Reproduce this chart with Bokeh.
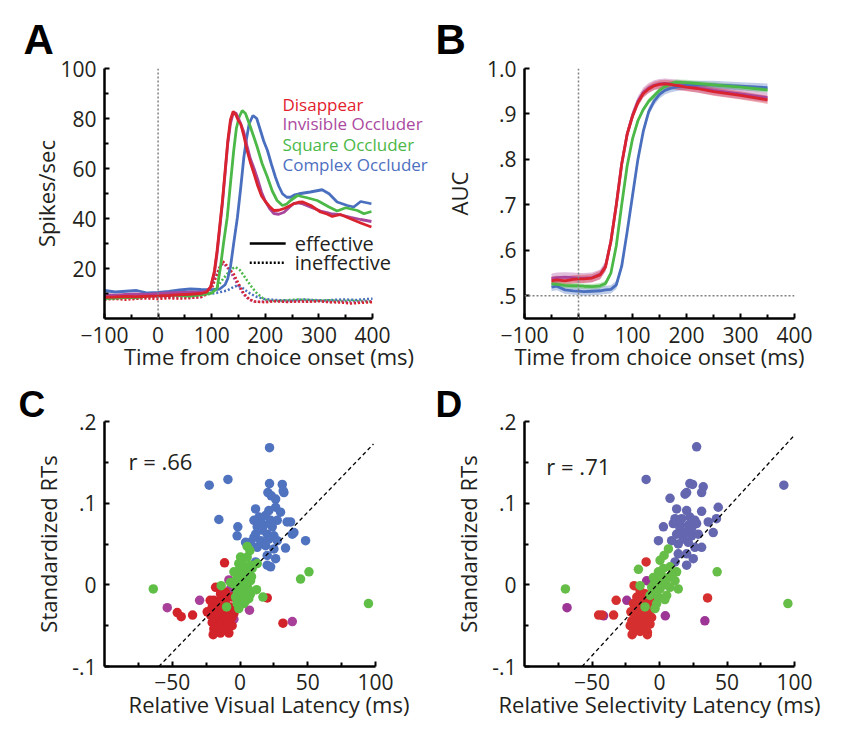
import numpy as np
from bokeh.plotting import figure
from bokeh.models import FixedTicker, Span, Label, CustomJSTickFormatter, Range1d
from bokeh.layouts import gridplot
from bokeh.embed import file_html
from bokeh.resources import INLINE

FONT = "Open Sans"
TXT = "#231f20"

# ---------------- Panel A data (firing rate, spikes/sec) ----------------
series_names = ["Disappear", "Invisible Occluder", "Square Occluder", "Complex Occluder"]
col_line = {"Disappear": "#d9232e", "Invisible Occluder": "#a9459b",
            "Square Occluder": "#4cb848", "Complex Occluder": "#4a6fbf"}
col_text = {"Disappear": "#e2212d", "Invisible Occluder": "#ab4aa0",
            "Square Occluder": "#4cb848", "Complex Occluder": "#4e6fbf"}

a_red_t = [-100,-80,-60,-40,-20,0,20,40,60,80,90,98,105,110,115,120,125,130,135,140,145,150,154,160,166,172,179,186,193,200,208,216,225,235,245,253,262,270,285,303,315,325,340,359,378,398]
a_red_y = [8.5,8.6,8.8,8.7,8.9,9.0,9.2,9.5,9.7,10.0,10.5,12.6,19,27,37,47,59,71,79.5,82.8,81.5,79,77.9,73,67.2,62.5,57.9,53,49,46.8,44.8,43.2,43.3,44,45,45.9,46.5,46.6,45.2,42.6,41.8,40.8,41.6,39.9,38.2,36.6]
a_mag_t = a_red_t
a_mag_y = [9.5,9.3,9.6,9.8,9.6,10,10.2,10.4,10.5,10.5,10.8,12.5,18,26,36,46,58,70,78,82,82.3,80,78,74.5,69,64,60,55.5,50.5,47,44,42,41.7,42.5,44.5,46,46.2,45.8,44.5,43,42.4,41.8,41.5,40.5,39.6,38.8]
a_grn_t = [-100,-80,-60,-40,-20,0,20,40,60,80,100,110,116,122,129,135,141,146,151,157,163,170,178,185,194,204,213,222,232,240,247,260,278,297,319,334,350,372,384,398]
a_grn_y = [8.0,8.2,8.5,8.4,9.0,9.5,9.6,9.2,9.0,9.5,10.2,12.0,20,30,40.5,54,67,76,80.5,83.2,82,78,73,68.5,62,56.5,51,47.2,45.2,45.8,47.2,49.2,48.3,47.2,44.6,43,44.3,43.2,41.9,42.8]
a_blu_t = [-100,-80,-60,-40,-20,0,20,40,60,80,100,115,125,130,135,141,148,154,160,165,170,177,184,191,197,204,211,219,225,232,240,247,255,263,284,306,319,334,353,365,378,398]
a_blu_y = [11.2,10.6,10.9,11.2,10.2,10.4,10.8,11.4,11.8,11.6,11.5,11.8,13.5,16,20.6,30,40.5,52,64.5,72,78,81.2,80,75.2,71,67.2,62,56.5,53,49.9,48.5,48.5,49.5,49.9,50.6,51.5,49.9,46.6,45.2,44.6,46.8,45.9]

a_ineff_t_rm = [-100,-80,-60,-40,-20,0,20,40,60,80,90,100,108,115,121,127,134,141,150,160,170,179,190,200,220,240,260,280,300,320,340,360,380,400]
a_red_ineff = [7.6,7.8,7.5,7.9,8.0,7.8,8.1,7.9,8.2,8.6,9.5,12,16.5,20.5,22.8,21.5,19.5,17.9,14,9.9,7.8,6.8,6.6,6.5,6.9,6.6,6.8,6.7,6.9,6.5,6.4,6.0,6.3,6.5]
a_mag_ineff = [8.2,8.0,8.3,8.1,8.4,8.6,8.3,8.5,8.2,8.5,9.8,12.5,17,20.5,22,21,19,16.5,13,9.5,7.5,6.8,6.7,6.8,7.0,6.7,6.9,6.8,7.0,6.6,6.8,6.4,6.7,6.9]
a_grn_ineff_t = [-100,-80,-60,-40,-20,0,20,40,60,80,100,110,120,129,137,144,152,159,166,175,185,195,204,220,240,260,280,300,320,340,360,380,400]
a_grn_ineff = [7.8,8.0,8.2,8.0,8.5,8.8,8.6,8.9,9.0,9.2,10,12.6,15.5,17.9,19.8,20.6,19.5,17.5,15.2,12.5,9.9,8.2,7.2,7.0,7.3,7.6,7.4,7.2,7.3,7.0,7.1,7.0,6.9]
a_blu_ineff_t = [-100,-80,-60,-40,-20,0,20,40,60,80,100,115,129,140,148,156,165,172,185,197,210,230,250,270,290,310,330,350,370,390,400]
a_blu_ineff = [8.5,8.8,8.6,9.0,8.9,9.2,9.0,9.3,9.5,9.6,9.9,10.5,11.2,12.5,13.2,12.5,11.0,9.9,8.6,7.9,7.5,7.3,7.2,7.6,7.4,7.2,7.5,7.6,7.4,7.8,7.9]

# ---------------- Panel B data (AUC) ----------------
b_t = [-50,-40,-25,-10,0,10,25,40,50,60,70,80,90,100,110,120,130,140,150,160,170,180,200,220,250,300,350]
b_red = [0.533,0.535,0.533,0.536,0.537,0.537,0.539,0.546,0.563,0.62,0.70,0.79,0.855,0.895,0.925,0.945,0.955,0.962,0.965,0.966,0.965,0.963,0.959,0.956,0.949,0.941,0.931]
b_mag = [0.538,0.540,0.541,0.540,0.539,0.539,0.540,0.547,0.565,0.62,0.70,0.79,0.855,0.897,0.928,0.947,0.957,0.963,0.966,0.967,0.966,0.965,0.962,0.958,0.952,0.944,0.936]
b_grn = [0.526,0.525,0.523,0.522,0.522,0.521,0.520,0.522,0.527,0.55,0.61,0.70,0.785,0.845,0.885,0.91,0.928,0.94,0.952,0.96,0.966,0.970,0.969,0.967,0.964,0.959,0.953]
b_blu = [0.519,0.521,0.513,0.511,0.510,0.509,0.510,0.511,0.513,0.514,0.524,0.565,0.64,0.72,0.80,0.862,0.905,0.928,0.943,0.952,0.956,0.959,0.963,0.964,0.964,0.961,0.958]
b_sem = {"Disappear": 0.009, "Invisible Occluder": 0.011, "Square Occluder": 0.006, "Complex Occluder": 0.009}

# ---------------- Panel C data (visual latency vs RT) ----------------
c_blue_x = [21.8,-22.7,-8.9,21.8,31.2,31.9,20.6,23.1,26.3,32.4,-15.6,11.5,21.3,26.3,29.9,18.9,15.2,22.6,27.5,37.3,10.3,12.7,17.6,23.8,-1.6,-2.1,11.5,20.1,25.0,38.6,39.8,48.4,33.6,4.1,15.2,18.9,12.7,25.0,20.1,26.3,20.1,22.6,11.5,7.8,16.4,21.3,27.5,10.3,14.0,34.8]
c_blue_y = [0.168,0.122,0.129,0.124,0.123,0.115,0.113,0.109,0.105,0.113,0.080,0.093,0.091,0.095,0.089,0.085,0.079,0.079,0.079,0.077,0.079,0.071,0.073,0.071,0.071,0.060,0.062,0.062,0.060,0.062,0.064,0.054,0.045,0.052,0.054,0.048,0.046,0.044,0.036,0.032,0.024,0.022,0.028,0.052,0.067,0.056,0.054,0.058,0.083,0.077]
c_green_x = [-64.0,5.3,7.3,0.4,5.3,-0.9,2.8,7.8,12.7,1.6,6.5,-2.1,4.1,7.8,-4.5,0.4,5.3,-2.1,2.8,7.8,-3.3,1.6,6.5,-2.1,2.8,-0.9,-9.9,-13.9,12.2,16.9,44.7,50.9,-7.0,-4.5,94.8,3.0,0.0,5.0,-1.0,4.0,8.5,2.0,9.0,-3.0,6.0]
c_green_y = [-0.005,0.047,0.042,0.034,0.034,0.026,0.022,0.024,0.026,0.016,0.016,0.009,0.009,0.005,0.001,0.001,-0.003,-0.007,-0.009,-0.011,-0.015,-0.017,-0.017,-0.023,-0.023,-0.029,-0.027,-0.001,-0.006,-0.015,0.007,0.016,0.003,0.016,-0.023,0.012,0.020,0.000,-0.010,-0.020,0.010,0.030,0.020,0.005,-0.005]
c_red_x = [-11.4,20.1,31.7,-46.3,-43.4,-35.0,-24.2,-18.0,-14.4,-10.7,-19.3,-15.6,-10.7,-5.8,-20.5,-16.8,-11.9,-7.0,-21.7,-18.0,-13.1,-8.2,-4.5,-20.5,-16.8,-11.9,-7.0,-19.3,-14.4,-9.4,-5.8,-19.8,-14.4,-8.2,-22.0,-17.0,-13.0,-10.0,-15.0,-9.0,-12.0,-18.0,-6.0,-14.0,-11.0]
c_red_y = [0.027,-0.016,-0.047,-0.034,-0.039,-0.037,-0.033,-0.003,-0.011,-0.009,-0.019,-0.023,-0.019,-0.015,-0.027,-0.031,-0.029,-0.027,-0.037,-0.040,-0.037,-0.037,-0.035,-0.046,-0.048,-0.046,-0.048,-0.054,-0.056,-0.054,-0.050,-0.061,-0.059,-0.059,-0.019,-0.035,-0.045,-0.030,-0.020,-0.050,-0.055,-0.052,-0.040,-0.028,-0.040]
c_mag_x = [-53.7,-29.8,-8.2,7.0,38.6,-7.0,-18.0,-4.5]
c_mag_y = [-0.028,-0.019,0.006,-0.031,-0.045,-0.005,-0.044,-0.042]
c_fit = (0.00172, 0.003, -60.0, 98.5)   # slope, intercept, x from, x to
c_r = "r = .66"

# ---------------- Panel D data (selectivity latency vs RT) ----------------
d_blue_x = [27.5,-9.9,22.5,24.5,20.1,18.9,32.4,31.2,7.8,12.7,20.1,31.2,43.5,11.5,16.4,22.5,26.2,36.1,42.2,2.9,10.2,15.2,21.3,27.5,39.8,12.7,18.9,23.8,28.7,-0.8,9.0,13.9,21.3,26.2,31.2,13.9,20.1,25.0,11.5,20.1,92.1,15.2,23.8,17.6]
d_blue_y = [0.169,0.129,0.124,0.123,0.113,0.111,0.120,0.113,0.106,0.093,0.091,0.090,0.095,0.081,0.081,0.083,0.079,0.077,0.081,0.071,0.075,0.073,0.073,0.075,0.064,0.062,0.064,0.060,0.062,0.054,0.054,0.050,0.052,0.046,0.046,0.038,0.038,0.032,0.028,0.024,0.122,0.069,0.069,0.056]
d_green_x = [-69.7,6.6,3.4,0.4,-15.6,-0.8,2.9,7.8,12.7,-4.5,0.4,6.6,11.5,-14.4,-5.8,0.4,7.8,13.9,-7.0,-0.8,5.3,-2.1,-10.7,-3.3,42.7,95.1,2.0,5.0,-2.0,9.0,4.0,-4.0]
d_green_y = [-0.005,0.044,0.036,0.030,0.019,0.016,0.020,0.022,0.016,0.009,0.005,0.009,0.005,-0.001,-0.003,-0.005,-0.003,-0.005,-0.013,-0.015,-0.013,-0.023,-0.027,-0.029,0.016,-0.023,0.010,0.000,-0.008,0.012,-0.018,0.001]
d_red_x = [-9.9,-18.8,35.6,-32.1,-45.1,-42.6,-34.0,-21.2,-14.4,-10.7,-16.8,-11.9,-7.0,-19.3,-14.4,-8.2,-20.5,-15.6,-10.7,-5.8,-21.7,-16.8,-11.9,-7.0,-19.3,-14.4,-9.0,-20.3,-9.0,-15.6,-10.7,-17.0,-12.5,-8.0,-14.0,-18.0,-10.0]
d_red_y = [0.028,-0.001,-0.016,-0.019,-0.037,-0.037,-0.037,-0.033,-0.007,-0.011,-0.015,-0.019,-0.017,-0.023,-0.025,-0.025,-0.044,-0.042,-0.040,-0.040,-0.050,-0.050,-0.050,-0.048,-0.058,-0.057,-0.058,-0.061,-0.061,-0.033,-0.031,-0.030,-0.045,-0.033,-0.053,-0.040,-0.055]
d_mag_x = [-68.5,-41.4,-24.2,-9.5,4.3,33.6,-5.8,-11.9]
d_mag_y = [-0.028,-0.038,-0.019,0.005,-0.038,-0.044,-0.011,-0.044]
d_fit = (0.0018, 0.0033, -57.4, 100.0)
d_r = "r = .71"

sc_col_c = {"blue": "#5073c0", "green": "#5fbe46", "red": "#d2232a", "mag": "#a8409a"}
sc_col_d = {"blue": "#6467b0", "green": "#66bd47", "red": "#d5302f", "mag": "#9c3596"}


def make_fig(w, h, xr, yr, bl, br, bt, bb):
    p = figure(width=w, height=h, x_range=Range1d(*xr), y_range=Range1d(*yr),
               output_backend="svg", toolbar_location=None, tools="",
               min_border_left=bl, min_border_right=br, min_border_top=bt, min_border_bottom=bb)
    p.xgrid.visible = False
    p.ygrid.visible = False
    p.outline_line_color = None
    p.background_fill_color = "white"
    p.border_fill_color = "white"
    for ax in (p.xaxis[0], p.yaxis[0]):
        ax.axis_line_width = 2.5
        ax.axis_line_color = "black"
        ax.major_tick_in = 5
        ax.major_tick_out = 0
        ax.minor_tick_in = 4
        ax.minor_tick_out = 0
        ax.major_tick_line_width = 2
        ax.minor_tick_line_width = 2
        ax.major_tick_line_color = "black"
        ax.minor_tick_line_color = "black"
        ax.major_label_text_font = FONT
        ax.major_label_text_font_size = "21px"
        ax.major_label_text_color = TXT
        ax.axis_label_text_font = FONT
        ax.axis_label_text_font_size = "22px"
        ax.axis_label_text_font_style = "normal"
        ax.axis_label_text_color = TXT
    return p


def letter(p, txt, offset, standoff, size="42px"):
    p.title.text = txt
    p.title.text_font = "Liberation Sans"
    p.title.text_font_size = size
    p.title.text_font_style = "bold"
    p.title.text_color = "black"
    p.title.align = "left"
    p.title.offset = offset
    p.title.standoff = standoff


frac_fmt = CustomJSTickFormatter(code="""
    if (Math.abs(tick) < 1e-9) return "0";
    var s = tick.toFixed(1);
    return s.replace(/^(-?)0\\./, "$1.");
""")

# Layout (gridplot aligns frames per column and per row)
W1, W2 = 435, 415
TOP1, FH1, BOT1 = 68, 250, 58
H1 = TOP1 + FH1 + BOT1
TOP2, FH2, BOT2 = 421 - H1, 245, 60
H2 = TOP2 + FH2 + BOT2
L1, R1 = 104, 2            # left column borders; frame widened to the right for the legend text
F1 = W1 - L1 - R1
L2 = 524 - W1
F2 = 270
R2 = W2 - L2 - F2

# ---------------- Panel A ----------------
a_xmax = -100 + 500 * F1 / 268.0
pA = make_fig(W1, H1, (-100, a_xmax), (0, 100), L1, R1, TOP1, BOT1)
letter(pA, "A", -81, 12)
pA.xaxis[0].bounds = (-100, 400)
pA.xaxis[0].ticker = FixedTicker(ticks=[-100, 0, 100, 200, 300, 400], minor_ticks=[-50, 50, 150, 250, 350])
pA.yaxis[0].ticker = FixedTicker(ticks=[20, 40, 60, 80, 100], minor_ticks=[10, 30, 50, 70, 90])
pA.xaxis[0].axis_label = "Time from choice onset (ms)"
pA.yaxis[0].axis_label = "Spikes/sec"
pA.xaxis[0].major_label_standoff = 8
pA.yaxis[0].major_label_standoff = 8
pA.xaxis[0].axis_label_standoff = -5
pA.yaxis[0].axis_label_standoff = -4
pA.add_layout(Span(location=0, dimension="height", line_color="#808080", line_dash="2 2", line_width=1.5))

ineff = [("Complex Occluder", a_blu_ineff_t, a_blu_ineff), ("Square Occluder", a_grn_ineff_t, a_grn_ineff),
         ("Invisible Occluder", a_ineff_t_rm, a_mag_ineff), ("Disappear", a_ineff_t_rm, a_red_ineff)]
for name, t, y in ineff:
    pA.line(t, y, line_color=col_line[name], line_width=2.5, line_dash="2 2")
eff = [("Complex Occluder", a_blu_t, a_blu_y), ("Square Occluder", a_grn_t, a_grn_y),
       ("Invisible Occluder", a_mag_t, a_mag_y), ("Disappear", a_red_t, a_red_y)]
for name, t, y in eff:
    pA.line(t, y, line_color=col_line[name], line_width=2.8)

leg_y = [85.6, 78.0, 69.8, 61.6]
for name, yy in zip(series_names, leg_y):
    pA.add_layout(Label(x=232, y=yy, text=name, text_color=col_text[name], text_font=FONT,
                        text_font_size="17px", text_baseline="middle", text_align="left"))
pA.line([171, 238], [30, 30], line_color="black", line_width=2.5)
pA.line([171, 238], [22.3, 22.3], line_color="black", line_width=2.5, line_dash="2 2")
pA.add_layout(Label(x=255, y=30, text="effective", text_color=TXT, text_font=FONT,
                    text_font_size="20px", text_baseline="middle"))
pA.add_layout(Label(x=255, y=22.3, text="ineffective", text_color=TXT, text_font=FONT,
                    text_font_size="20px", text_baseline="middle"))

# ---------------- Panel B ----------------
pB = make_fig(W2, H1, (-100, 400), (0.45, 1.0), L2, R2, TOP1, BOT1)
letter(pB, "B", -89, 12)
pB.xaxis[0].ticker = FixedTicker(ticks=[-100, 0, 100, 200, 300, 400], minor_ticks=[-50, 50, 150, 250, 350])
pB.yaxis[0].ticker = FixedTicker(ticks=[0.5, 0.6, 0.7, 0.8, 0.9, 1.0], minor_ticks=[])
pB.yaxis[0].formatter = frac_fmt
pB.xaxis[0].axis_label = "Time from choice onset (ms)"
pB.yaxis[0].axis_label = "AUC"
pB.xaxis[0].major_label_standoff = 8
pB.yaxis[0].major_label_standoff = 8
pB.xaxis[0].axis_label_standoff = -5
pB.yaxis[0].axis_label_standoff = 10
pB.add_layout(Span(location=0, dimension="height", line_color="#808080", line_dash="2 2", line_width=1.5))
pB.add_layout(Span(location=0.5, dimension="width", line_color="#808080", line_dash="2 2", line_width=1.5))
aucs = [("Invisible Occluder", b_mag), ("Complex Occluder", b_blu), ("Square Occluder", b_grn), ("Disappear", b_red)]
bt = np.array(b_t, dtype=float)
for name, y in aucs:
    ya = np.array(y)
    pB.varea(x=bt, y1=ya - b_sem[name], y2=ya + b_sem[name], fill_color=col_line[name], fill_alpha=0.35)
for name, y in aucs:
    pB.line(b_t, y, line_color=col_line[name], line_width=2.8)


# ---------------- Panels C and D ----------------
def scatter_panel(w, bl, br, frame_w, px_per_100, xs, cols, fit, rtext, rx, ry, lab, xlab, off, ylab_standoff):
    xmax = -100 + 100 * frame_w / px_per_100
    p = make_fig(w, H2, (-100, xmax), (-0.1, 0.2), bl, br, TOP2, BOT2)
    letter(p, lab, off, -6, "37px")
    p.xaxis[0].bounds = (-100, 100)
    p.xaxis[0].ticker = FixedTicker(ticks=[-50, 0, 50, 100], minor_ticks=[-75, -25, 25, 75])
    p.yaxis[0].ticker = FixedTicker(ticks=[-0.1, 0, 0.1, 0.2], minor_ticks=[-0.05, 0.05, 0.15])
    p.yaxis[0].formatter = frac_fmt
    p.xaxis[0].axis_label = xlab
    p.yaxis[0].axis_label = "Standardized RTs"
    p.xaxis[0].major_label_standoff = 7
    p.yaxis[0].major_label_standoff = 8
    p.xaxis[0].axis_label_standoff = -4
    p.yaxis[0].axis_label_standoff = ylab_standoff
    (mx, my), (rdx, rdy), (bx, by), (gx, gy) = xs
    p.scatter(mx, my, size=9.5, fill_color=cols["mag"], line_color=None)
    p.scatter(rdx, rdy, size=9.5, fill_color=cols["red"], line_color=None)
    p.scatter(bx, by, size=9.5, fill_color=cols["blue"], line_color=None)
    p.scatter(gx, gy, size=9.5, fill_color=cols["green"], line_color=None)
    slope, icpt, x0, x1 = fit
    fx = np.array([x0, x1])
    p.line(fx, slope * fx + icpt, line_color="black", line_width=1.3, line_dash="4 3")
    p.add_layout(Label(x=rx, y=ry, text=rtext, text_color=TXT, text_font=FONT,
                       text_font_size="22px", text_baseline="middle"))
    return p


pC = scatter_panel(W1, L1, R1, F1, 135.5,
                   [(c_mag_x, c_mag_y), (c_red_x, c_red_y), (c_blue_x, c_blue_y), (c_green_x, c_green_y)],
                   sc_col_c, c_fit, c_r, -82.3, 0.152, "C", "Relative Visual Latency (ms)", -86, 6)
pD = scatter_panel(W2, L2, R2, F2, 135.0,
                   [(d_mag_x, d_mag_y), (d_red_x, d_red_y), (d_blue_x, d_blue_y), (d_green_x, d_green_y)],
                   sc_col_d, d_fit, d_r, -83.8, 0.146, "D", "Relative Selectivity Latency (ms)", -89, 6)

grid = gridplot([[pA, pB], [pC, pD]], toolbar_location=None)
open("out.html", "w").write(file_html(grid, INLINE))
